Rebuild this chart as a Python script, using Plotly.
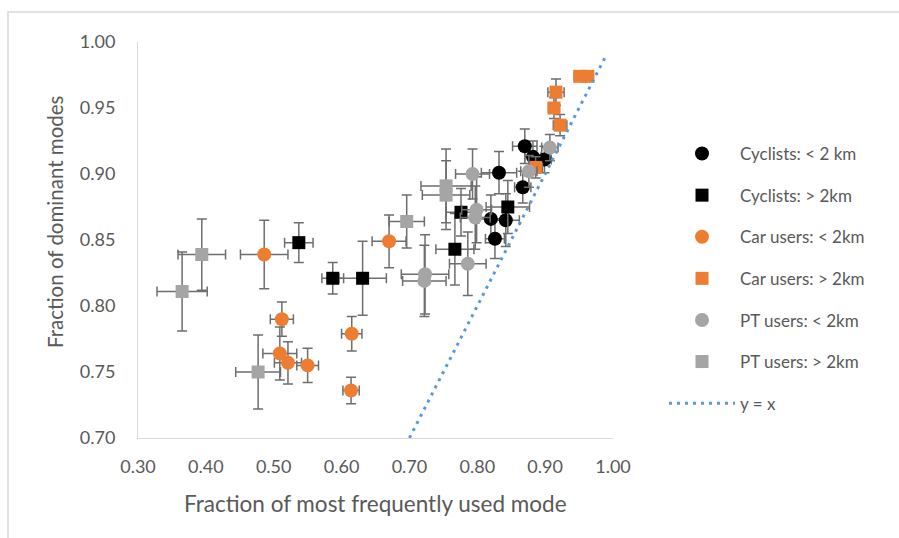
import plotly.graph_objects as go

# ---- data ----
cyc_lt_x = [0.870, 0.882, 0.899, 0.867, 0.832, 0.820, 0.842, 0.826]
cyc_lt_y = [0.921, 0.913, 0.911, 0.890, 0.901, 0.866, 0.865, 0.851]
cyc_lt_ex = [0.018, 0.012, 0.010, 0.012, 0.026, 0.018, 0.020, 0.014]
cyc_lt_ey = [0.013, 0.012, 0.010, 0.012, 0.016, 0.018, 0.020, 0.015]

cyc_gt_x = [0.537, 0.587, 0.631, 0.776, 0.767, 0.845]
cyc_gt_y = [0.848, 0.821, 0.821, 0.871, 0.843, 0.875]
cyc_gt_ex = [0.021, 0.016, 0.035, 0.022, 0.028, 0.032]
cyc_gt_ey = [0.015, 0.012, 0.028, 0.018, 0.027, 0.020]

car_lt_x = [0.486, 0.512, 0.615, 0.509, 0.521, 0.550, 0.614, 0.670]
car_lt_y = [0.839, 0.790, 0.779, 0.764, 0.757, 0.755, 0.736, 0.849]
car_lt_ex = [0.035, 0.017, 0.015, 0.025, 0.020, 0.016, 0.012, 0.025]
car_lt_ey = [0.026, 0.013, 0.013, 0.020, 0.016, 0.013, 0.010, 0.020]

car_gt_x = [0.951, 0.963, 0.916, 0.913, 0.922, 0.886]
car_gt_y = [0.974, 0.974, 0.962, 0.950, 0.937, 0.905]
car_gt_ex = [0.008, 0.008, 0.012, 0.008, 0.010, 0.010]
car_gt_ey = [0.003, 0.003, 0.010, 0.008, 0.008, 0.008]

pt_lt_x = [0.907, 0.876, 0.793, 0.799, 0.797, 0.786, 0.723, 0.722]
pt_lt_y = [0.920, 0.902, 0.900, 0.873, 0.867, 0.832, 0.824, 0.819]
pt_lt_ex = [0.012, 0.012, 0.025, 0.022, 0.022, 0.027, 0.035, 0.032]
pt_lt_ey = [0.010, 0.012, 0.019, 0.025, 0.024, 0.024, 0.030, 0.027]

pt_gt_x = [0.394, 0.365, 0.477, 0.696, 0.754, 0.754]
pt_gt_y = [0.839, 0.811, 0.750, 0.864, 0.891, 0.884]
pt_gt_ex = [0.035, 0.037, 0.033, 0.026, 0.037, 0.035]
pt_gt_ey = [0.027, 0.030, 0.028, 0.020, 0.028, 0.026]

ref_x = [0.70, 0.99]
ref_y = [0.70, 0.99]

x_ticks = [0.30, 0.40, 0.50, 0.60, 0.70, 0.80, 0.90, 1.00]
y_ticks = [0.70, 0.75, 0.80, 0.85, 0.90, 0.95, 1.00]

x_title = "Fraction of most frequently used mode"
y_title = "Fraction of dominant modes"

FONT = "Lato, 'Liberation Sans', sans-serif"
TXT = "#595959"
ERR = "#6E6E6E"

series = [
    ("Cyclists: < 2 km", cyc_lt_x, cyc_lt_y, cyc_lt_ex, cyc_lt_ey, "#000000", "circle", 14),
    ("Cyclists: > 2km", cyc_gt_x, cyc_gt_y, cyc_gt_ex, cyc_gt_ey, "#000000", "square", 13),
    ("Car users: < 2km", car_lt_x, car_lt_y, car_lt_ex, car_lt_ey, "#ED7D31", "circle", 14),
    ("Car users: > 2km", car_gt_x, car_gt_y, car_gt_ex, car_gt_ey, "#ED7D31", "square", 13),
    ("PT users: < 2km", pt_lt_x, pt_lt_y, pt_lt_ex, pt_lt_ey, "#A5A5A5", "circle", 14),
    ("PT users: > 2km", pt_gt_x, pt_gt_y, pt_gt_ex, pt_gt_ey, "#A5A5A5", "square", 13),
]

fig = go.Figure()
for i, (name, xs, ys, exs, eys, col, sym, sz) in enumerate(series):
    fig.add_trace(go.Scatter(
        x=xs, y=ys, mode="markers", name=name, legendgroup=f"g{i}",
        marker=dict(color=col, symbol=sym, size=sz, line=dict(width=0)),
        error_x=dict(type="data", array=exs, visible=True, color=ERR, thickness=1.5, width=5),
        error_y=dict(type="data", array=eys, visible=True, color=ERR, thickness=1.5, width=5),
    ))

fig.add_trace(go.Scatter(
    x=ref_x, y=ref_y, mode="lines", name="y = x", legendgroup="g6",
    line=dict(color="#5B9BD5", width=3, dash="3px,5px"),
))

fig.update_layout(
    width=899, height=538,
    margin=dict(l=138, r=286, t=42, b=100),
    paper_bgcolor="white", plot_bgcolor="white",
    font=dict(family=FONT, color=TXT, size=17),
    showlegend=True,
    legend=dict(
        x=(664 - 138) / 475, xanchor="left",
        y=(438 - 136) / 396, yanchor="top",
        font=dict(size=17, color=TXT, family=FONT),
        itemwidth=66, tracegroupgap=16.5,
        bgcolor="rgba(0,0,0,0)",
    ),
    xaxis=dict(
        range=[0.30, 1.00], tickvals=x_ticks, ticktext=[f"{v:.2f}" for v in x_ticks],
        showgrid=False, zeroline=False, showline=True, linecolor="#D9D9D9", linewidth=1,
        ticks="outside", ticklen=12, tickcolor="rgba(0,0,0,0)",
        tickfont=dict(size=18, color=TXT, family=FONT),
    ),
    yaxis=dict(
        range=[0.70, 1.00], tickvals=y_ticks, ticktext=[f"{v:.2f}" for v in y_ticks],
        showgrid=False, zeroline=False, showline=True, linecolor="#D9D9D9", linewidth=1,
        ticks="outside", ticklen=18, tickcolor="rgba(0,0,0,0)",
        tickfont=dict(size=18, color=TXT, family=FONT),
    ),
    annotations=[
        dict(text=x_title, xref="paper", yref="paper", x=(375 - 138) / 475, y=(438 - 503) / 396,
             xanchor="center", yanchor="middle", showarrow=False,
             font=dict(size=22.5, color=TXT, family=FONT)),
        dict(text=y_title, xref="paper", yref="paper", x=(55 - 138) / 475, y=(438 - 222) / 396,
             xanchor="center", yanchor="middle", showarrow=False, textangle=-90,
             font=dict(size=20.5, color=TXT, family=FONT)),
    ],
    shapes=[dict(type="rect", xref="paper", yref="paper",
                 x0=(8 - 138) / 475, x1=(1000 - 138) / 475,
                 y0=(438 - 700) / 396, y1=(438 - 12) / 396,
                 line=dict(color="#D9D9D9", width=1.5), fillcolor="rgba(0,0,0,0)", layer="below")],
)

fig.write_html("out.html")
